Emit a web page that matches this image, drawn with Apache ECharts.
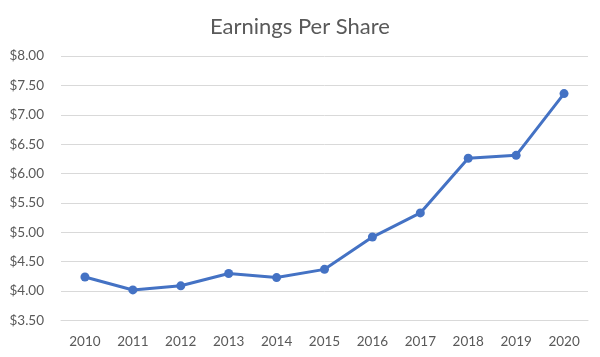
<!DOCTYPE html>
<html>
<head>
<meta charset="utf-8">
<script src="https://cdn.jsdelivr.net/npm/echarts@6/dist/echarts.min.js"></script>
<style>html,body{margin:0;padding:0;background:#fff;}#c{width:600px;height:357px;}</style>
</head>
<body>
<div id="c"></div>
<script>
const years = ['2010','2011','2012','2013','2014','2015','2016','2017','2018','2019','2020'];
const eps = [4.24, 4.02, 4.09, 4.30, 4.23, 4.37, 4.92, 5.33, 6.26, 6.31, 7.36];
const chartTitle = 'Earnings Per Share';

const chart = echarts.init(document.getElementById('c'), null, {renderer: 'canvas'});
chart.setOption({
  animation: false,
  backgroundColor: '#ffffff',
  title: {
    text: chartTitle,
    left: 'center',
    top: 11,
    textStyle: {fontFamily: 'Lato', fontSize: 22, fontWeight: 'normal', color: '#595959'}
  },
  grid: {left: 61, right: 12, top: 56, bottom: 36.5, containLabel: false},
  xAxis: {
    type: 'category',
    data: years,
    boundaryGap: true,
    axisLine: {show: true, lineStyle: {color: '#d9d9d9', width: 1}},
    axisTick: {show: false},
    axisLabel: {fontFamily: 'Lato', fontSize: 13.5, color: '#595959', margin: 14}
  },
  yAxis: {
    type: 'value',
    min: 3.5,
    max: 8,
    interval: 0.5,
    axisLine: {show: false},
    axisTick: {show: false},
    splitLine: {lineStyle: {color: '#d9d9d9', width: 1}},
    axisLabel: {
      fontFamily: 'Lato', fontSize: 13.5, color: '#595959', margin: 17,
      formatter: v => '$' + v.toFixed(2)
    }
  },
  series: [{
    type: 'line',
    data: eps,
    color: '#4472C4',
    lineStyle: {width: 3, color: '#4472C4'},
    symbol: 'circle',
    symbolSize: 9,
    itemStyle: {color: '#4472C4'}
  }]
});
</script>
</body>
</html>
